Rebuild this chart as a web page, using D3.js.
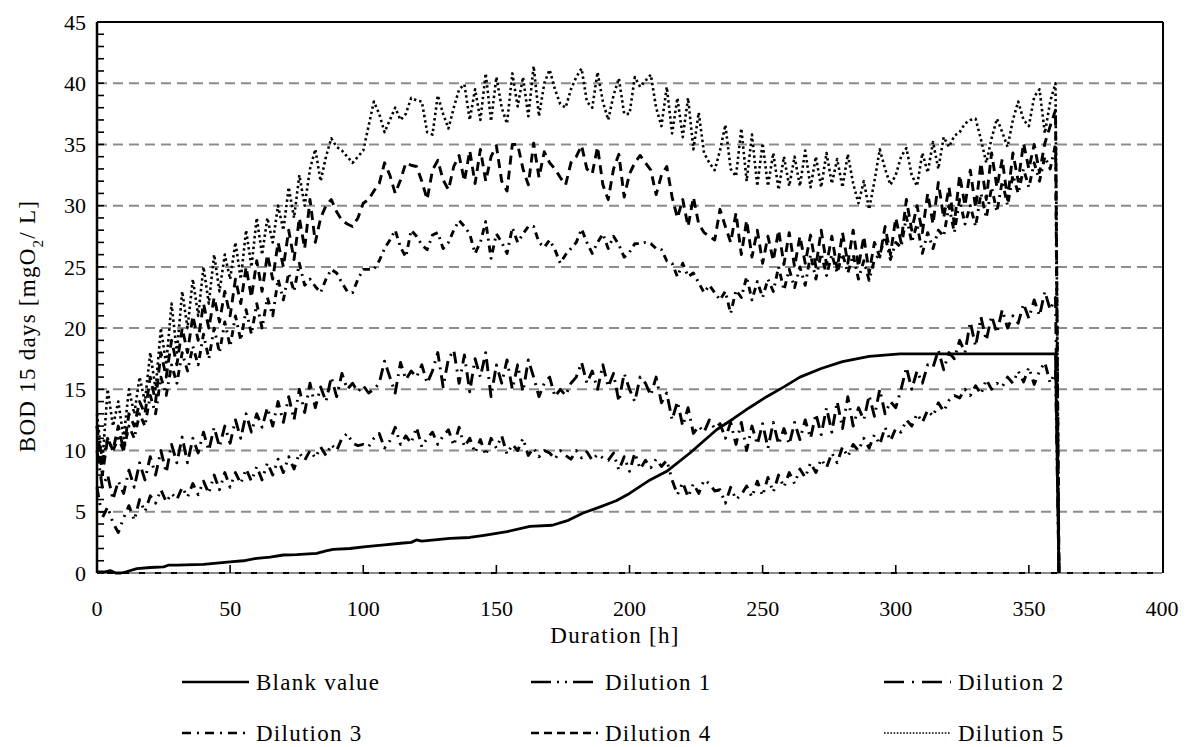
<!DOCTYPE html>
<html>
<head>
<meta charset="utf-8">
<script src="https://cdn.jsdelivr.net/npm/d3@7"></script>
<style>
  body { margin: 0; background: #fff; }
  svg text { font-family: "Liberation Serif", "Times New Roman", serif; fill: #000; }
  svg text.wide { letter-spacing: 1.25px; }
</style>
</head>
<body>
<svg id="chart" width="1192" height="747"></svg>
<script>
// Sampling times (h) shared by the five dilution series
const hours = [
  0,2,4,6,8,10,12,14,16,18, 20,22,24,26,28,30,32,34,36,38,
  40,42,44,46,48,50,52,54,56,58, 60,62,64,66,68,70,72,74,76,78,
  80,82,84,86,88,90,92,94,96,98, 100,102,104,106,108,110,112,114,116,118,
  120,122,124,126,128,130,132,134,136,138, 140,142,144,146,148,150,152,154,156,158,
  160,162,164,166,168,170,172,174,176,178, 180,182,184,186,188,190,192,194,196,198,
  200,202,204,206,208,210,212,214,216,218, 220,222,224,226,228,230,232,234,236,238,
  240,242,244,246,248,250,252,254,256,258, 260,262,264,266,268,270,272,274,276,278,
  280,282,284,286,288,290,292,294,296,298, 300,302,304,306,308,310,312,314,316,318,
  320,322,324,326,328,330,332,334,336,338, 340,342,344,346,348,350,352,354,356,358,
  360
];
// Time at which the recording stops and every trace falls to zero
const stopHour = 361.3;

// Blank value (smooth curve, own sampling)
const blankHours = [0,3,5,7,9,11,15,20,25,27,30,40,45,51,55,60,65,70,75,82.5,86,88.7,95,101,108,114,118,120,122,132.6,140,146,154,162.6,171,177,182.6,189,195,200,207.7,214,222.7,232.7,239,245,251.5,258,264,272,280,290,301.6,330,360];
const blankValues = [0.1,0.1,0.2,0,0,0.1,0.35,0.45,0.5,0.65,0.65,0.7,0.8,0.93,1.0,1.2,1.3,1.47,1.5,1.6,1.8,1.93,2.0,2.15,2.3,2.43,2.5,2.7,2.6,2.83,2.9,3.1,3.38,3.8,3.9,4.3,4.9,5.4,5.9,6.5,7.6,8.3,9.8,11.7,12.6,13.5,14.4,15.2,16.0,16.7,17.26,17.7,17.9,17.9,17.9];

// BOD readings, mgO2/L
const dilution1 = [
  7,4.5,5.4,4.1,3.3,4.5,5.5,4.3,6,5,
  6.3,5.7,6.8,5.8,6.5,6,7,6.2,7.3,6.4,
  7.5,6.5,8,6.8,8.2,7,8.2,7.3,8.5,7.5,
  8.7,7.6,9,8,9.3,8.2,9.5,8.5,9.8,9.2,
  10,9.4,10.3,9.6,10.5,10,11,11.4,10.6,10.4,
  10.5,10.3,11,11.4,10.2,10.8,11.9,10.5,11.2,10.6,
  11.9,10.3,11,11.5,10.5,11.2,11.7,10.4,11.9,10.3,
  11,9.8,10.9,9.6,11,10.2,11.2,9.7,10.5,10,
  11,9.6,10.2,9.5,10,9.8,9.3,10,9.6,9.3,
  10,9.4,9.9,9.2,9.7,9.4,9.2,9.8,8.4,9.5,
  8.3,9.8,8.5,9.2,8.6,9.3,8.7,9.2,7.6,6.4,
  7.4,6.2,7.3,6.5,7.6,7.3,6.7,6.8,5.7,7,
  6,6.4,7.1,6.2,7.5,6.3,7.8,6.6,8,7,
  8.2,7.3,8.5,7.8,9,8.2,9.3,8.6,9.8,9,
  10.3,9.5,10.5,10,11,10.2,11.3,10.5,11.9,10.8,
  11.8,11.5,12.5,12,13,12.3,13.3,12.8,13.9,13.2,
  14.1,14.5,14.3,15,14.5,15.3,14.6,15.8,15,15.5,
  15.2,16,15.5,16.5,15.6,16.8,15.4,16.5,17.2,15.5,
  16.5
];
const dilution2 = [
  10,7,8,6,7.5,6.5,8.4,7,9,7.6,
  9.5,8,10,8.2,10.5,9,11.1,9,11,9.8,
  11.5,10,11.9,10.3,12,10.6,12.5,11,13,11.5,
  13,11.9,13.5,12,14,12.3,14.4,12.5,15,13.1,
  15.5,13.5,15.2,14,16,14.4,16.3,15,15.5,14.8,
  15.3,14.7,15,15.5,17.3,16,14.7,17.2,15.8,16.5,
  16,17,15.5,16.5,18,15.2,17.5,18.2,15.5,17.8,
  14.8,17.5,16,18,14.4,17,15.5,17.4,15,17,
  14.8,17.4,16,14.4,15.5,16,14.4,15,14.5,15.5,
  16,17.2,15.5,16.5,15,17,15.2,16.3,14,16.3,
  15,14,16,15.5,14.5,16,13.9,14.7,12.5,14,
  12,13.5,11.4,12,11.5,12.5,11.8,12.2,11,12.3,
  10.5,12.3,10,12,10.5,12.2,10.2,12.3,10.5,11.8,
  10.5,12.3,10.9,12.5,11,13,11.3,13.5,11.5,14,
  11.8,14.4,12,13.5,12.5,14.5,12.8,15,13,14,
  13.5,15,16.8,15,16.5,15.5,17,16.8,18.2,16.6,
  18,17.5,19,18,20.5,18.5,20.9,19,21,19.6,
  21.5,20,21,20.4,22,20.8,22.3,21,23,21.5,
  22.5
];
const dilution3 = [
  12,9,11,10,11,10,12,11,13,12,
  14.5,13,16,14.5,17,15.5,18,16.5,18.5,17,
  19.5,17.5,20,18,20.5,18.5,21,19,21.5,19.5,
  22,20,22.5,21,24,22.3,24.5,23,25.3,23.5,
  24,23.4,22.9,24,24.8,24.5,23.7,23,22.9,24,
  24.8,24.8,24.8,25.5,26.5,27.2,28,26.6,25.8,28,
  27.5,26.8,26.4,27.6,27.8,26.5,27,28,28.8,28.3,
  27.7,26.1,27,28.7,25.7,27.7,27,26.1,28.2,27,
  27.7,28.3,28.3,27,26.6,27.2,26.4,25.3,26,26.5,
  27,28.1,27,26.1,27,27.7,26.5,27.5,26.8,25.8,
  26.2,26.9,26.9,27,26.9,26.5,26.4,25.5,25.3,24.2,
  25.3,24.2,24.5,23.7,22.9,23.5,22.9,22.3,23,21.2,
  23.1,22.5,24.2,22.3,23.8,22.5,24,23,25,23.1,
  24.8,23.3,25,23.5,26,24,26.1,24.3,26,24.5,
  26.1,24.5,26,24,25.5,23.9,25.6,26,27.5,25.6,
  27,26.6,29.1,27,28.5,26.1,27.8,26.5,28,27.5,
  30,27.8,30.5,28.5,30,28.3,31,29,31.5,29.5,
  32,30,32.5,31,33,31.5,33.5,32,34,33,
  35
];
const dilution4 = [
  12,8,11,10,12,10,13,12,14,13,
  16,14,18,16,19,17,20,18,21,19,
  22,20,22.5,20.5,23,21,24,22,25,22.5,
  25.5,23,26,24,27,25,28,25.6,29,26.5,
  30.5,27,29,30,30.5,29.5,28.8,28.5,28.3,29,
  30.2,30.5,31.2,31.8,33.5,32.5,31,32.1,33.5,33.3,
  33.2,32,30.5,32.9,33.7,32.1,31.3,33.2,34.1,32,
  34.5,31.8,34.6,32,34,34.9,32,31.2,35,35,
  33,31.7,35.1,32.3,34.4,33.5,33,32.3,31.7,33.5,
  34,34.9,33,32.6,34.8,31.7,30.5,33,34.2,30.7,
  32.6,33.5,34.1,33.5,32.9,30.9,32.5,33.2,30.7,29,
  30.5,28.3,30.7,28.5,27.8,27.5,27.2,29.7,28.3,27,
  29.4,26,28.8,25.8,28,25.3,27.5,25.5,28,25.2,
  27.8,25,27.5,25.3,27.6,25,28,25.2,27.5,24.8,
  27.8,25.3,28,25,27.5,24.5,27,25.8,28.3,26,
  29,27,30.5,28,30,27.8,31,28.5,31.9,29,
  31.5,28.5,32.5,30,32.9,29.8,33.5,30.5,34.3,31.5,
  33.8,30.5,34.3,32,35.1,33,35,32.7,35.1,36.5,
  37.8
];
const dilution5 = [
  13,9,15,12,14,11,15,13,16,14,
  18,15,20,17,22,18,23,20,24,21,
  25,22,26,23,26,24,27,24,28,25,
  29,26,29,27,30,28,31.5,29,32.5,30,
  33,34.6,32,34,35.5,34.8,34.5,34,33.5,34,
  34.5,36.5,38.5,37.5,36,37,38,37,37.5,38.8,
  38.6,38.5,36,35.8,39,37.5,36.3,38,39.5,39.9,
  37,39.5,37,40.8,36.9,40.5,38,36.7,40.8,38.1,
  40.5,37.3,41.4,37.3,40,41.1,39.5,38.3,38,39.5,
  40.5,41.2,38.5,38,40.9,38.5,37,39,40.4,37.5,
  37.5,40.5,39.7,40.2,40.7,38,36.5,39.7,35.9,38.8,
  35.6,38.8,34.6,37.6,34.3,33.5,32.9,34.5,36.6,33,
  32.4,36.3,32,35.8,31.6,35.1,31.6,34.3,31.3,34,
  31.6,34,31.6,34.5,31.5,34,31.5,34.3,31.8,33.8,
  31.5,34.2,31.8,30.2,32,29.7,32,34.6,33,31.7,
  32.5,34,34.7,32.5,31.6,34.3,32.7,35.2,33,35.6,
  34.8,35.7,36,36.7,37,37.1,35.4,33.5,35.5,37.1,
  36,34.8,37,38.5,37,36.5,38.9,39.5,35.9,38.5,
  40
];

const xTicks = [0, 50, 100, 150, 200, 250, 300, 350, 400];
const yTicks = [0, 5, 10, 15, 20, 25, 30, 35, 40, 45];
const seriesNames = ["Blank value", "Dilution 1", "Dilution 2", "Dilution 3", "Dilution 4", "Dilution 5"];

// Line styles per series (plot dash, legend dash)
const styles = {
  "Blank value": { dash: null, legendDash: null, width: 2.8 },
  "Dilution 1": { dash: "10,6,2,6,2,6", legendDash: "20,6,2,6,2,6", width: 2.9 },
  "Dilution 2": { dash: "12,6,2,6", legendDash: "20,8,2,8", width: 2.9 },
  "Dilution 3": { dash: "7,5,2,5", legendDash: "9,6,2,6", width: 2.9 },
  "Dilution 4": { dash: "9,6", legendDash: "8,5", width: 2.9 },
  "Dilution 5": { dash: "2.4,3", legendDash: "1.6,1.6", width: 2.6 }
};

const svg = d3.select("#chart");
const plotLeft = 97, plotRight = 1162, plotTop = 22, plotBottom = 573;
const x = d3.scaleLinear().domain([0, 400]).range([plotLeft, plotRight]);
const y = d3.scaleLinear().domain([0, 45]).range([plotBottom, plotTop]);

// Horizontal dashed gridlines (the zero line sits on a black axis line)
const grid = svg.append("g");
grid.append("line")
  .attr("x1", x(0)).attr("x2", x(400))
  .attr("y1", y(0)).attr("y2", y(0))
  .attr("stroke", "#000").attr("stroke-width", 2);
yTicks.filter(v => v < 45).forEach(v => {
  grid.append("line")
    .attr("x1", x(0)).attr("x2", x(400))
    .attr("y1", y(v)).attr("y2", y(v))
    .attr("stroke", "#8c8c8c")
    .attr("stroke-width", 2)
    .attr("stroke-dasharray", "10,6");
});

// Series
const line = d3.line().x(d => x(d.h)).y(d => y(d.v));
const blankPts = blankHours.map((h, i) => ({ h, v: blankValues[i] }));
blankPts.push({ h: stopHour, v: 0 });
const dilutions = [dilution1, dilution2, dilution3, dilution4, dilution5];
const seriesData = [blankPts].concat(dilutions.map(vals => {
  const pts = hours.map((h, i) => ({ h, v: vals[i] }));
  pts.push({ h: stopHour, v: 0 });
  return pts;
}));

const plot = svg.append("g");
seriesData.forEach((pts, i) => {
  const st = styles[seriesNames[i]];
  plot.append("path")
    .attr("d", line(pts))
    .attr("fill", "none")
    .attr("stroke", "#000")
    .attr("stroke-width", st.width)
    .attr("stroke-linejoin", "round")
    .attr("stroke-dasharray", st.dash);
});

// Frame: left axis, top and right border
const frame = svg.append("g").attr("stroke", "#000");
frame.append("line").attr("x1", plotLeft).attr("x2", plotLeft).attr("y1", plotTop).attr("y2", plotBottom).attr("stroke-width", 2.5);
frame.append("line").attr("x1", plotLeft).attr("x2", plotRight + 1).attr("y1", plotTop).attr("y2", plotTop).attr("stroke-width", 2);
frame.append("line").attr("x1", plotRight + 1).attr("x2", plotRight + 1).attr("y1", plotTop).attr("y2", plotBottom).attr("stroke-width", 2);

// Minor ticks on the y axis (every 1 mgO2/L)
const yMinor = y.ticks(45);
svg.append("g").selectAll("line").data(yMinor).join("line")
  .attr("x1", plotLeft).attr("x2", plotLeft + 7)
  .attr("y1", d => y(d)).attr("y2", d => y(d))
  .attr("stroke", "#000").attr("stroke-width", 1.6);

// x ticks pointing inward
svg.append("g").selectAll("line").data(xTicks.slice(1, -1)).join("line")
  .attr("x1", d => x(d)).attr("x2", d => x(d))
  .attr("y1", plotBottom).attr("y2", plotBottom - 8)
  .attr("stroke", "#000").attr("stroke-width", 1.6);

// Tick labels
svg.append("g").selectAll("text").data(yTicks).join("text")
  .attr("x", plotLeft - 11).attr("y", d => y(d))
  .attr("dy", "0.35em")
  .attr("text-anchor", "end")
  .style("font-size", "22px")
  .text(d => d);

svg.append("g").selectAll("text").data(xTicks).join("text")
  .attr("x", d => x(d)).attr("y", 608)
  .attr("dy", "0.35em")
  .attr("text-anchor", "middle")
  .style("font-size", "22px")
  .text(d => d);

// Axis titles
svg.append("text")
  .attr("class", "wide")
  .attr("x", 615).attr("y", 635)
  .attr("dy", "0.35em")
  .attr("text-anchor", "middle")
  .style("font-size", "23px")
  .text("Duration [h]");

const yTitle = svg.append("text")
  .attr("class", "wide")
  .attr("transform", "translate(27,326) rotate(-90)")
  .attr("dy", "0.35em")
  .attr("text-anchor", "middle")
  .style("font-size", "23px");
yTitle.append("tspan").text("BOD 15 days [mgO");
yTitle.append("tspan").attr("baseline-shift", "sub").style("font-size", "15px").text("2");
yTitle.append("tspan").text("/ L]");

// Legend, three columns by two rows
const legendCols = [182, 531, 884];
const legendRows = [682, 733];
const legend = svg.append("g");
seriesNames.forEach((name, i) => {
  const cx = legendCols[i % 3], cy = legendRows[Math.floor(i / 3)];
  const st = styles[name];
  legend.append("line")
    .attr("x1", cx).attr("x2", cx + 67)
    .attr("y1", cy).attr("y2", cy)
    .attr("stroke", "#000")
    .attr("stroke-width", name === "Dilution 5" ? 1.6 : 2.6)
    .attr("stroke-dasharray", st.legendDash);
  legend.append("text")
    .attr("class", "wide")
    .attr("x", cx + 74).attr("y", cy)
    .attr("dy", "0.35em")
    .style("font-size", "23px")
    .text(name);
});
</script>
</body>
</html>
